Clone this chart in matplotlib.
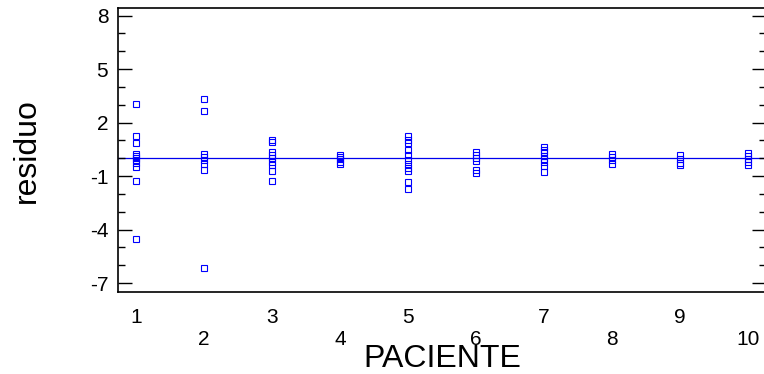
import matplotlib
matplotlib.use('Agg')
import matplotlib.pyplot as plt
from matplotlib.ticker import MultipleLocator, FixedLocator

plt.rcParams['font.family'] = ['Liberation Sans', 'DejaVu Sans']
plt.rcParams['axes.unicode_minus'] = False

# residuos por paciente
pacientes = [1, 2, 3, 4, 5, 6, 7, 8, 9, 10]
res_p1 = [3.06, 1.23, 0.88, 0.22, 0.11, 0.0, -0.11, -0.28, -0.5, -1.29, -4.53]
res_p2 = [3.3, 2.65, 0.26, 0.07, -0.11, -0.3, -0.67, -6.14]
res_p3 = [1.0, 0.9, 0.35, 0.17, 0.0, -0.2, -0.4, -0.71, -1.29]
res_p4 = [0.17, 0.05, -0.05, -0.2, -0.35]
res_p5 = [1.23, 1.05, 0.86, 0.45, 0.17, -0.07, -0.3, -0.52, -0.71, -1.32, -1.75]
res_p6 = [0.35, 0.2, 0.02, -0.17, -0.67, -0.82]
res_p7 = [0.63, 0.49, 0.34, 0.15, -0.04, -0.22, -0.45, -0.77]
res_p8 = [0.22, 0.07, -0.11, -0.3]
res_p9 = [0.17, -0.02, -0.24, -0.39]
res_p10 = [0.3, 0.15, -0.04, -0.22, -0.39]
residuos = [res_p1, res_p2, res_p3, res_p4, res_p5,
            res_p6, res_p7, res_p8, res_p9, res_p10]

y_ticks = [-7, -4, -1, 2, 5, 8]

fig = plt.figure(figsize=(7.64, 3.74), dpi=100)
ax = fig.add_axes([118 / 764, 1 - 292.3 / 374, 648 / 764, 284.3 / 374])

xs, ys = [], []
for p, vals in zip(pacientes, residuos):
    xs += [p] * len(vals)
    ys += vals

ax.axhline(0, color='#0000ee', linewidth=0.9, zorder=1)
ax.plot(xs, ys, linestyle='none', marker='s', markersize=4.9,
        markerfacecolor='none', markeredgecolor='#0000ff',
        markeredgewidth=0.8, zorder=2)

ax.set_xlim(0.735, 10.265)
ax.set_ylim(-7.52, 8.43)

# etiquetas del eje x alternadas en dos filas
ax.xaxis.set_major_locator(FixedLocator(pacientes))
ax.set_xticklabels([str(p) if p % 2 else '\n' + str(p) for p in pacientes],
                   linespacing=1.25)
ax.tick_params(axis='x', length=0, pad=11, labelsize=15)

ax.yaxis.set_major_locator(FixedLocator(y_ticks))
ax.yaxis.set_minor_locator(MultipleLocator(1))
ax.tick_params(axis='y', which='both', direction='in', left=True, right=True,
               labelsize=15, pad=7, width=1.0)
ax.tick_params(axis='y', which='major', length=10)
ax.tick_params(axis='y', which='minor', length=5)

for s in ax.spines.values():
    s.set_linewidth(1.2)

ax.set_xlabel('PACIENTE', fontsize=23)
ax.xaxis.set_label_coords(0.5, -0.182)
ax.xaxis.label.set_va('top')
ax.set_ylabel('residuo', fontsize=23)
ax.yaxis.set_label_coords(-0.118, 0.5)

fig.savefig('out.png', dpi=100, facecolor='white')
